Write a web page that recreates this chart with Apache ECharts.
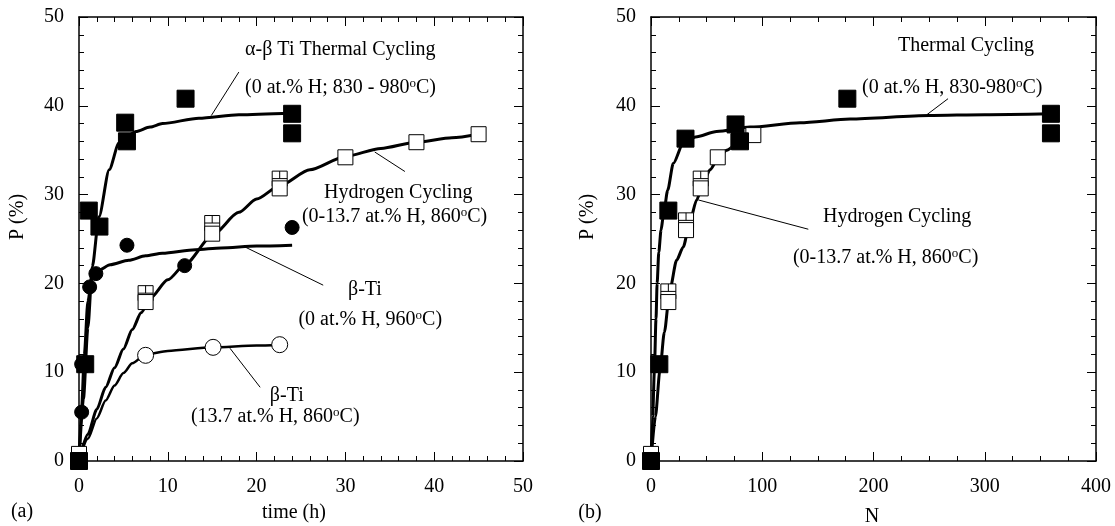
<!DOCTYPE html>
<html>
<head>
<meta charset="utf-8">
<script src="https://cdn.jsdelivr.net/npm/echarts@6/dist/echarts.min.js"></script>
<style>
html,body{margin:0;padding:0;background:#fff;}
#c{width:1115px;height:526px;}
</style>
</head>
<body>
<div id="c"></div>
<script>
// ---------- DATA (panel a: time in h) ----------
const thermalT = [[0,0],[0.7,10.9],[1.1,28.2],[2.3,26.4],[5.2,38.1],[5.4,36.0],[12,40.8],[24,39.1],[24,36.9]];
const betaT = [[0,0],[0.3,5.5],[0.3,10.9],[1.2,19.6],[1.9,21.1],[5.4,24.3],[11.9,22.0],[24,26.3]];
const hydroTCross = [[7.5,18.9],[15,26.8],[22.6,31.8]];
const hydroTOpen = [[0,0.8],[7.5,17.9],[15,25.6],[22.6,30.7],[30,34.2],[38,35.9],[45,36.8]];
const betaHT = [[7.5,11.9],[15.1,12.8],[22.6,13.1]];
// fitted curves
const thermalTCurve = [[0,0],[0.5,7],[1,15],[1.5,21.9],[2.25,27.5],[3.4,32.8],[4.5,35.8],[5.5,36.6],[6.4,37.1],[8,37.6],[9.4,38.0],[13.5,38.6],[18,39.0],[24,39.2]];
const betaTCurve = [[0,0],[0.3,6],[0.6,12],[1,18],[1.5,20.9],[2.25,21.5],[3.5,22.1],[5.6,22.6],[7.5,23.1],[9.4,23.4],[13.1,23.8],[16,24.0],[20,24.2],[24,24.3]];
const hydroTCurve = [[0,0],[1,3],[2,5.8],[3,8.3],[4,10.5],[5,12.6],[6,14.8],[7,16.7],[8,18.3],[10,20.4],[12,22.2],[15,25.4],[18,28],[20,29.5],[22.6,31],[26,32.8],[30,34.3],[34,35.2],[38,35.9],[42,36.4],[45,36.8]];
const betaHTCurve = [[0,0],[1,2.5],[2,4.8],[3,6.8],[4,8.5],[5,9.9],[6,11],[7.5,12],[10,12.4],[15,12.8],[20,13],[22.6,13.1]];

// ---------- DATA (panel b: N cycles) ----------
const thermalN = [[0,0],[7.5,10.9],[15.6,28.2],[31,36.3],[76,37.9],[80,36.0],[176.5,40.8],[359.5,39.1],[359.5,36.9]];
const hydroNCross = [[15.6,19.1],[31.5,27.1],[44.7,31.8]];
const hydroNOpen = [[0,0.8],[15.6,17.9],[31.5,26.0],[44.7,30.7],[60,34.2],[78.5,36.0],[92,36.7]];
const thermalNCurve = [[0,0],[1.5,5],[3,10],[4.5,16],[5.5,20],[7,23.5],[9,26],[11,27.5],[15,30.5],[20,33.5],[29,35.8],[40,36.5],[59,37.1],[89,37.6],[134,38.1],[179,38.5],[250,38.9],[300,39.0],[360,39.1]];
const hydroNCurve = [[0,0],[4,5],[8,10.2],[12,14.5],[17,19.3],[23,22.6],[29,24.1],[35,27],[41,29.4],[47,31.3],[53,32.8],[60,34.0],[68,35.0],[80,36.0],[92,36.7]];

// ---------- TICKS ----------
const xTicksA = [0,10,20,30,40,50];
const xTicksB = [0,100,200,300,400];
const yTicks = [0,10,20,30,40,50];

// ---------- ANNOTATIONS (data coords) ----------
const notes = [
  {g:0, x:18.7, y:46.3, t:'α-β Ti Thermal Cycling', a:'left'},
  {g:0, x:18.7, y:42.0, t:'(0 at.% H; 830 - 980{s|o}C)', a:'left'},
  {g:0, x:27.6, y:30.2, t:'Hydrogen Cycling', a:'left'},
  {g:0, x:25.1, y:27.5, t:'(0-13.7 at.% H, 860{s|o}C)', a:'left'},
  {g:0, x:32.2, y:19.3, t:'β-Ti', a:'center'},
  {g:0, x:32.8, y:15.9, t:'(0 at.% H, 960{s|o}C)', a:'center'},
  {g:0, x:23.4, y:7.4, t:'β-Ti', a:'center'},
  {g:0, x:22.1, y:5.0, t:'(13.7 at.% H, 860{s|o}C)', a:'center'},
  {g:1, x:222, y:46.8, t:'Thermal Cycling', a:'left'},
  {g:1, x:189.7, y:42.0, t:'(0 at.% H, 830-980{s|o}C)', a:'left'},
  {g:1, x:154.6, y:27.5, t:'Hydrogen Cycling', a:'left'},
  {g:1, x:127.6, y:22.9, t:'(0-13.7 at.% H, 860{s|o}C)', a:'left'}
];
const leaders = [
  {g:0, p:[[18.0,43.8],[14.9,38.9]]},
  {g:0, p:[[33.3,34.8],[36.7,32.6]]},
  {g:0, p:[[18.7,24.1],[27.5,19.8]]},
  {g:0, p:[[17.0,12.7],[20.4,8.3]]},
  {g:1, p:[[248,39.0],[267,40.8]]},
  {g:1, p:[[42.5,29.4],[141.4,26.1]]}
];

const FONT = '"Liberation Serif","Times New Roman",serif';
const crossSym = 'path://M0 0H10V10H0Z M5 0V5 M0 5H10';

function mkX(idx, max, interval, minorSplit, pos, showLabel){
  return {
    type:'value', gridIndex:idx, min:0, max:max, interval:interval, position:pos,
    axisLine:{show:true, onZero:false, lineStyle:{color:'#000', width:1.5}},
    axisTick:{show:true, inside:true, length:9, lineStyle:{color:'#000', width:1}},
    minorTick:{show:true, splitNumber:minorSplit, length:5, lineStyle:{color:'#000', width:1}},
    axisLabel:{show:showLabel, color:'#000', fontFamily:FONT, fontSize:20, margin:16},
    splitLine:{show:false}
  };
}
function mkY(idx, pos, showLabel){
  return {
    type:'value', gridIndex:idx, min:0, max:50, interval:10, position:pos,
    axisLine:{show:true, onZero:false, lineStyle:{color:'#000', width:1.5}},
    axisTick:{show:true, inside:true, length:9, lineStyle:{color:'#000', width:1}},
    minorTick:{show:true, splitNumber:5, length:5, lineStyle:{color:'#000', width:1}},
    axisLabel:{show:showLabel, color:'#000', fontFamily:FONT, fontSize:20, margin:15},
    splitLine:{show:false}
  };
}
function curve(xi, data, w){
  return {type:'line', xAxisIndex:xi, yAxisIndex:xi, data:data, showSymbol:false, symbol:'none',
    smooth:0.25, smoothMonotone:'x', lineStyle:{color:'#000', width:w||3}, z:2, clip:false, silent:true};
}
function pts(xi, data, sym, size, fill, z){
  return {type:'scatter', xAxisIndex:xi, yAxisIndex:xi, data:data, symbol:sym, symbolSize:size,
    itemStyle:{color:fill, borderColor:'#000', borderWidth:1, opacity:1}, z:z||5, clip:false, silent:true};
}

const chart = echarts.init(document.getElementById('c'), null, {renderer:'canvas'});
const option = {
  animation:false,
  backgroundColor:'#fff',
  grid:[
    {left:79, top:17, width:444, height:444},
    {left:651, top:17, width:445, height:444}
  ],
  xAxis:[
    mkX(0, 50, 10, 5, 'bottom', true),
    mkX(1, 400, 100, 4, 'bottom', true),
    mkX(0, 50, 10, 5, 'top', false),
    mkX(1, 400, 100, 4, 'top', false)
  ],
  yAxis:[
    mkY(0, 'left', true),
    mkY(1, 'left', true),
    mkY(0, 'right', false),
    mkY(1, 'right', false)
  ],
  series:[
    curve(0, thermalTCurve), curve(0, betaTCurve), curve(0, hydroTCurve), curve(0, betaHTCurve, 2.5),
    pts(0, hydroTCross, crossSym, 15, '#fff', 4),
    pts(0, hydroTOpen, 'rect', 15, '#fff', 5),
    pts(0, betaHT, 'circle', 16, '#fff', 5),
    pts(0, betaT, 'circle', 14, '#000', 6),
    pts(0, thermalT, 'rect', 17, '#000', 7),
    curve(1, thermalNCurve), curve(1, hydroNCurve),
    pts(1, hydroNCross, crossSym, 15, '#fff', 4),
    pts(1, hydroNOpen, 'rect', 15, '#fff', 5),
    pts(1, thermalN, 'rect', 17, '#000', 7)
  ].concat(leaders.map(l => ({
    type:'line', xAxisIndex:l.g, yAxisIndex:l.g, data:l.p, symbol:'none', showSymbol:false,
    lineStyle:{color:'#000', width:1}, z:3, silent:true, clip:false
  })))
};
chart.setOption(option);

const graphics = [];
notes.forEach(n => {
  const p = chart.convertToPixel({gridIndex:n.g}, [n.x, n.y]);
  graphics.push({type:'text', x:p[0], y:p[1], z:20, style:{
    text:n.t, align:n.a, verticalAlign:'middle', fill:'#000', fontFamily:FONT, fontSize:20, lineHeight:22,
    rich:{s:{fontFamily:FONT, fontSize:13, lineHeight:13, verticalAlign:'top', fill:'#000'}}
  }});
});
// axis titles and panel tags
graphics.push({type:'text', x:294, y:513, style:{text:'time (h)', align:'center', verticalAlign:'middle', fill:'#000', fontFamily:FONT, fontSize:20}});
graphics.push({type:'text', x:872, y:517, style:{text:'N', align:'center', verticalAlign:'middle', fill:'#000', fontFamily:FONT, fontSize:20}});
graphics.push({type:'text', x:18, y:217, rotation:Math.PI/2, style:{text:'P (%)', align:'center', verticalAlign:'middle', fill:'#000', fontFamily:FONT, fontSize:20}});
graphics.push({type:'text', x:588, y:217, rotation:Math.PI/2, style:{text:'P (%)', align:'center', verticalAlign:'middle', fill:'#000', fontFamily:FONT, fontSize:20}});
graphics.push({type:'text', x:22, y:512, style:{text:'(a)', align:'center', verticalAlign:'middle', fill:'#000', fontFamily:FONT, fontSize:20}});
graphics.push({type:'text', x:590, y:513, style:{text:'(b)', align:'center', verticalAlign:'middle', fill:'#000', fontFamily:FONT, fontSize:20}});
chart.setOption({graphic:graphics});
</script>
</body>
</html>
